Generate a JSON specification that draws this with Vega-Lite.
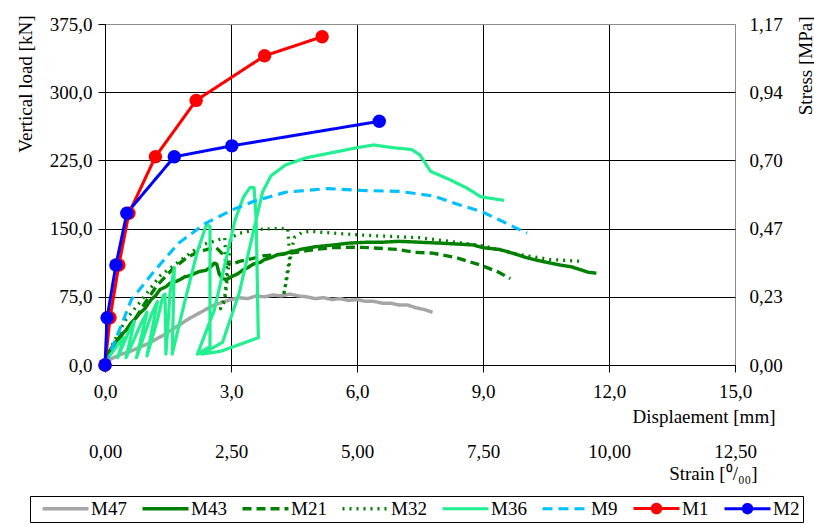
{
  "$schema": "https://vega.github.io/schema/vega-lite/v6.json",
  "autosize": "none",
  "width": 630,
  "height": 341,
  "padding": {"left": 105, "top": 24, "right": 79, "bottom": 160},
  "background": "white",
  "config": {
    "font": "Liberation Serif",
    "view": {"stroke": "#8c8c8c", "strokeWidth": 1},
    "axis": {"labelFont": "Liberation Serif", "titleFont": "Liberation Serif", "labelFontSize": 19, "titleFontSize": 19, "titleFontWeight": "normal", "labelColor": "#000", "titleColor": "#000"},
    "legend": {"labelFont": "Liberation Serif", "labelFontSize": 19, "labelColor": "#000"}
  },
  "layer": [
    {
      "data": {"values": [
        {"s":"M47","i":0,"d":0,"y":3},{"s":"M47","i":1,"d":0.2,"y":8},{"s":"M47","i":2,"d":0.4,"y":12},{"s":"M47","i":3,"d":0.6,"y":15},{"s":"M47","i":4,"d":0.8,"y":19},{"s":"M47","i":5,"d":1.0,"y":23},{"s":"M47","i":6,"d":1.2,"y":28},{"s":"M47","i":7,"d":1.4,"y":33},{"s":"M47","i":8,"d":1.6,"y":39},{"s":"M47","i":9,"d":1.8,"y":45},{"s":"M47","i":10,"d":2.0,"y":51},{"s":"M47","i":11,"d":2.2,"y":56},{"s":"M47","i":12,"d":2.4,"y":61},{"s":"M47","i":13,"d":2.6,"y":66},{"s":"M47","i":14,"d":2.8,"y":69},{"s":"M47","i":15,"d":3.0,"y":72},{"s":"M47","i":16,"d":3.2,"y":74},{"s":"M47","i":17,"d":3.4,"y":73},{"s":"M47","i":18,"d":3.6,"y":76},{"s":"M47","i":19,"d":3.8,"y":75},{"s":"M47","i":20,"d":4.0,"y":77},{"s":"M47","i":21,"d":4.2,"y":76},{"s":"M47","i":22,"d":4.4,"y":78},{"s":"M47","i":23,"d":4.6,"y":76},{"s":"M47","i":24,"d":4.8,"y":75},{"s":"M47","i":25,"d":5.0,"y":73},{"s":"M47","i":26,"d":5.2,"y":74},{"s":"M47","i":27,"d":5.4,"y":72},{"s":"M47","i":28,"d":5.6,"y":73},{"s":"M47","i":29,"d":5.8,"y":71},{"s":"M47","i":30,"d":6.0,"y":72},{"s":"M47","i":31,"d":6.2,"y":70},{"s":"M47","i":32,"d":6.4,"y":70},{"s":"M47","i":33,"d":6.6,"y":68},{"s":"M47","i":34,"d":6.8,"y":68},{"s":"M47","i":35,"d":7.0,"y":66},{"s":"M47","i":36,"d":7.2,"y":66},{"s":"M47","i":37,"d":7.4,"y":63},{"s":"M47","i":38,"d":7.6,"y":61},{"s":"M47","i":39,"d":7.8,"y":58},
        {"s":"M43","i":0,"d":0,"y":0},{"s":"M43","i":1,"d":0.1,"y":15},{"s":"M43","i":2,"d":0.2,"y":22},{"s":"M43","i":3,"d":0.3,"y":28},{"s":"M43","i":4,"d":0.4,"y":34},{"s":"M43","i":5,"d":0.5,"y":38},{"s":"M43","i":6,"d":0.6,"y":45},{"s":"M43","i":7,"d":0.7,"y":50},{"s":"M43","i":8,"d":0.83,"y":57},{"s":"M43","i":9,"d":0.95,"y":62},{"s":"M43","i":10,"d":1.1,"y":72},{"s":"M43","i":11,"d":1.2,"y":76},{"s":"M43","i":12,"d":1.31,"y":83},{"s":"M43","i":13,"d":1.45,"y":86},{"s":"M43","i":14,"d":1.55,"y":90},{"s":"M43","i":15,"d":1.7,"y":92},{"s":"M43","i":16,"d":1.79,"y":94},{"s":"M43","i":17,"d":1.9,"y":97},{"s":"M43","i":18,"d":2.0,"y":98},{"s":"M43","i":19,"d":2.15,"y":101},{"s":"M43","i":20,"d":2.26,"y":103},{"s":"M43","i":21,"d":2.4,"y":104},{"s":"M43","i":22,"d":2.5,"y":107},{"s":"M43","i":23,"d":2.6,"y":112},{"s":"M43","i":24,"d":2.66,"y":111},{"s":"M43","i":25,"d":2.72,"y":100},{"s":"M43","i":26,"d":2.8,"y":95},{"s":"M43","i":27,"d":2.9,"y":94},{"s":"M43","i":28,"d":3.05,"y":98},{"s":"M43","i":29,"d":3.15,"y":100},{"s":"M43","i":30,"d":3.3,"y":105},{"s":"M43","i":31,"d":3.4,"y":107},{"s":"M43","i":32,"d":3.53,"y":111},{"s":"M43","i":33,"d":3.7,"y":113},{"s":"M43","i":34,"d":3.8,"y":116},{"s":"M43","i":35,"d":3.95,"y":118},{"s":"M43","i":36,"d":4.09,"y":121},{"s":"M43","i":37,"d":4.25,"y":122},{"s":"M43","i":38,"d":4.4,"y":124},{"s":"M43","i":39,"d":4.64,"y":127},{"s":"M43","i":40,"d":5.0,"y":130},{"s":"M43","i":41,"d":5.44,"y":132},{"s":"M43","i":42,"d":5.8,"y":134},{"s":"M43","i":43,"d":6.23,"y":135},{"s":"M43","i":44,"d":6.6,"y":135},{"s":"M43","i":45,"d":7.0,"y":136},{"s":"M43","i":46,"d":7.5,"y":135},{"s":"M43","i":47,"d":7.98,"y":134},{"s":"M43","i":48,"d":8.4,"y":133},{"s":"M43","i":49,"d":8.77,"y":132},{"s":"M43","i":50,"d":9.0,"y":129},{"s":"M43","i":51,"d":9.4,"y":127},{"s":"M43","i":52,"d":9.7,"y":123},{"s":"M43","i":53,"d":10.04,"y":118},{"s":"M43","i":54,"d":10.4,"y":114},{"s":"M43","i":55,"d":10.83,"y":110},{"s":"M43","i":56,"d":11.1,"y":108},{"s":"M43","i":57,"d":11.31,"y":105},{"s":"M43","i":58,"d":11.5,"y":102},{"s":"M43","i":59,"d":11.7,"y":101},
        {"s":"M21","i":0,"d":0,"y":0},{"s":"M21","i":1,"d":0.2,"y":20},{"s":"M21","i":2,"d":0.4,"y":33},{"s":"M21","i":3,"d":0.67,"y":47},{"s":"M21","i":4,"d":0.95,"y":68},{"s":"M21","i":5,"d":1.23,"y":87},{"s":"M21","i":6,"d":1.6,"y":105},{"s":"M21","i":7,"d":1.94,"y":118},{"s":"M21","i":8,"d":2.2,"y":124},{"s":"M21","i":9,"d":2.42,"y":127},{"s":"M21","i":10,"d":2.65,"y":129},{"s":"M21","i":11,"d":2.8,"y":122},{"s":"M21","i":12,"d":2.9,"y":112},{"s":"M21","i":13,"d":3.0,"y":110},{"s":"M21","i":14,"d":3.2,"y":114},{"s":"M21","i":15,"d":3.5,"y":117},{"s":"M21","i":16,"d":3.76,"y":120},{"s":"M21","i":17,"d":4.2,"y":122},{"s":"M21","i":18,"d":4.56,"y":124},{"s":"M21","i":19,"d":5.0,"y":127},{"s":"M21","i":20,"d":5.4,"y":129},{"s":"M21","i":21,"d":5.9,"y":129.5},{"s":"M21","i":22,"d":6.3,"y":129},{"s":"M21","i":23,"d":7.0,"y":127},{"s":"M21","i":24,"d":7.35,"y":124},{"s":"M21","i":25,"d":7.8,"y":123},{"s":"M21","i":26,"d":8.37,"y":118},{"s":"M21","i":27,"d":8.93,"y":110},{"s":"M21","i":28,"d":9.33,"y":103},{"s":"M21","i":29,"d":9.65,"y":95},
        {"s":"M32","i":0,"d":0,"y":0},{"s":"M32","i":1,"d":0.2,"y":25},{"s":"M32","i":2,"d":0.5,"y":50},{"s":"M32","i":3,"d":0.83,"y":69},{"s":"M32","i":4,"d":1.31,"y":98},{"s":"M32","i":5,"d":1.94,"y":120},{"s":"M32","i":6,"d":2.3,"y":132},{"s":"M32","i":7,"d":2.58,"y":136},{"s":"M32","i":8,"d":2.85,"y":140},{"s":"M32","i":9,"d":2.9,"y":100},{"s":"M32","i":10,"d":2.85,"y":75},{"s":"M32","i":11,"d":2.75,"y":62},{"s":"M32","i":12,"d":2.85,"y":70},{"s":"M32","i":13,"d":2.95,"y":110},{"s":"M32","i":14,"d":3.0,"y":140},{"s":"M32","i":15,"d":3.21,"y":145},{"s":"M32","i":16,"d":3.6,"y":149},{"s":"M32","i":17,"d":4.0,"y":150},{"s":"M32","i":18,"d":4.35,"y":150},{"s":"M32","i":19,"d":4.4,"y":120},{"s":"M32","i":20,"d":4.3,"y":90},{"s":"M32","i":21,"d":4.25,"y":76},{"s":"M32","i":22,"d":4.35,"y":100},{"s":"M32","i":23,"d":4.5,"y":140},{"s":"M32","i":24,"d":4.7,"y":146},{"s":"M32","i":25,"d":4.9,"y":147},{"s":"M32","i":26,"d":5.44,"y":145},{"s":"M32","i":27,"d":5.9,"y":143.5},{"s":"M32","i":28,"d":6.5,"y":142},{"s":"M32","i":29,"d":7.0,"y":141},{"s":"M32","i":30,"d":7.5,"y":140},{"s":"M32","i":31,"d":8.2,"y":136},{"s":"M32","i":32,"d":9.0,"y":131},{"s":"M32","i":33,"d":9.8,"y":122},{"s":"M32","i":34,"d":10.6,"y":116},{"s":"M32","i":35,"d":11.35,"y":114},
        {"s":"M36","i":0,"d":0,"y":3},{"s":"M36","i":1,"d":0.35,"y":25},{"s":"M36","i":2,"d":0.45,"y":30},{"s":"M36","i":3,"d":0.3,"y":8},{"s":"M36","i":4,"d":0.55,"y":35},{"s":"M36","i":5,"d":0.7,"y":48},{"s":"M36","i":6,"d":0.5,"y":8},{"s":"M36","i":7,"d":0.85,"y":45},{"s":"M36","i":8,"d":1.0,"y":58},{"s":"M36","i":9,"d":0.75,"y":8},{"s":"M36","i":10,"d":1.1,"y":55},{"s":"M36","i":11,"d":1.25,"y":70},{"s":"M36","i":12,"d":1.0,"y":10},{"s":"M36","i":13,"d":1.25,"y":50},{"s":"M36","i":14,"d":1.38,"y":76},{"s":"M36","i":15,"d":1.43,"y":78},{"s":"M36","i":16,"d":1.45,"y":12},{"s":"M36","i":17,"d":1.55,"y":80},{"s":"M36","i":18,"d":1.65,"y":107},{"s":"M36","i":19,"d":1.6,"y":12},{"s":"M36","i":20,"d":1.9,"y":70},{"s":"M36","i":21,"d":2.2,"y":125},{"s":"M36","i":22,"d":2.42,"y":155},{"s":"M36","i":23,"d":2.5,"y":152},{"s":"M36","i":24,"d":2.5,"y":20},{"s":"M36","i":25,"d":2.2,"y":12},{"s":"M36","i":26,"d":2.6,"y":60},{"s":"M36","i":27,"d":2.9,"y":120},{"s":"M36","i":28,"d":3.1,"y":160},{"s":"M36","i":29,"d":3.3,"y":185},{"s":"M36","i":30,"d":3.45,"y":195},{"s":"M36","i":31,"d":3.55,"y":195},{"s":"M36","i":32,"d":3.6,"y":160},{"s":"M36","i":33,"d":3.65,"y":30},{"s":"M36","i":34,"d":2.75,"y":15},{"s":"M36","i":35,"d":2.3,"y":12},{"s":"M36","i":36,"d":2.8,"y":25},{"s":"M36","i":37,"d":3.2,"y":80},{"s":"M36","i":38,"d":3.5,"y":140},{"s":"M36","i":39,"d":3.75,"y":190},{"s":"M36","i":40,"d":3.95,"y":208},{"s":"M36","i":41,"d":4.3,"y":220},{"s":"M36","i":42,"d":4.8,"y":228},{"s":"M36","i":43,"d":5.35,"y":233},{"s":"M36","i":44,"d":6.0,"y":239},{"s":"M36","i":45,"d":6.4,"y":242},{"s":"M36","i":46,"d":6.85,"y":239},{"s":"M36","i":47,"d":7.3,"y":237},{"s":"M36","i":48,"d":7.5,"y":231},{"s":"M36","i":49,"d":7.75,"y":213},{"s":"M36","i":50,"d":8.2,"y":204},{"s":"M36","i":51,"d":8.6,"y":195},{"s":"M36","i":52,"d":8.95,"y":185},{"s":"M36","i":53,"d":9.5,"y":181},
        {"s":"M9","i":0,"d":0,"y":0},{"s":"M9","i":1,"d":0.25,"y":28},{"s":"M9","i":2,"d":0.63,"y":72},{"s":"M9","i":3,"d":1.15,"y":102},{"s":"M9","i":4,"d":1.75,"y":134},{"s":"M9","i":5,"d":2.4,"y":156},{"s":"M9","i":6,"d":3.1,"y":172},{"s":"M9","i":7,"d":3.55,"y":180},{"s":"M9","i":8,"d":4.3,"y":190},{"s":"M9","i":9,"d":5.3,"y":194},{"s":"M9","i":10,"d":6.1,"y":192},{"s":"M9","i":11,"d":7.0,"y":191},{"s":"M9","i":12,"d":7.8,"y":186},{"s":"M9","i":13,"d":8.45,"y":176},{"s":"M9","i":14,"d":9.0,"y":168},{"s":"M9","i":15,"d":9.55,"y":156},{"s":"M9","i":16,"d":10.05,"y":145},
        {"s":"M1","i":0,"d":0,"y":0},{"s":"M1","i":1,"d":0.12,"y":52},{"s":"M1","i":2,"d":0.33,"y":110},{"s":"M1","i":3,"d":0.57,"y":167},{"s":"M1","i":4,"d":1.2,"y":229},{"s":"M1","i":5,"d":2.17,"y":291},{"s":"M1","i":6,"d":3.8,"y":340},{"s":"M1","i":7,"d":5.17,"y":361},
        {"s":"M2","i":0,"d":0,"y":0},{"s":"M2","i":1,"d":0.05,"y":52},{"s":"M2","i":2,"d":0.26,"y":110},{"s":"M2","i":3,"d":0.52,"y":167},{"s":"M2","i":4,"d":1.65,"y":229},{"s":"M2","i":5,"d":3.02,"y":241},{"s":"M2","i":6,"d":6.53,"y":268}
      ]},
      "layer": [
        {
          "mark": {"type": "line", "strokeCap": "butt", "strokeJoin": "round"},
          "encoding": {
            "x": {"field": "d", "type": "quantitative", "scale": {"domain": [0, 15], "nice": false},
              "axis": {"values": [0, 3, 6, 9, 12, 15], "labelExpr": "replace(format(datum.value,'.1f'),'.',',')", "grid": true, "gridColor": {"condition": {"test": "datum.value == 15", "value": "#8c8c8c"}, "value": "#000"}, "gridOpacity": 1, "gridWidth": 1, "domainColor": "#000", "tickColor": "#000", "tickSize": 7, "labelPadding": 10, "labelFlush": false, "title": "Displaement [mm]", "titleX": 670, "titleY": 57, "titleAlign": "right", "titleBaseline": "alphabetic"}},
            "y": {"field": "y", "type": "quantitative", "scale": {"domain": [0, 375], "nice": false},
              "axis": {"values": [0, 75, 150, 225, 300, 375], "labelExpr": "replace(format(datum.value,'.1f'),'.',',')", "grid": true, "gridColor": {"condition": {"test": "datum.value == 375", "value": "#8c8c8c"}, "value": "#000"}, "gridOpacity": 1, "gridWidth": 1, "domainColor": "#000", "tickColor": "#000", "tickSize": 7, "labelPadding": 6, "labelFlush": false, "title": "Vertical load [kN]", "titleX": -74, "titleY": -9, "titleAngle": -90, "titleAlign": "right", "titleBaseline": "alphabetic"}},
            "order": {"field": "i", "type": "quantitative"},
            "color": {"field": "s", "type": "nominal",
              "scale": {"domain": ["M47","M43","M21","M32","M36","M9","M1","M2"], "range": ["#A6A6A6","#008000","#008000","#008000","#22F090","#00C0FF","#FF0000","#0000FF"]},
              "legend": {"title": null, "orient": "none", "legendX": -75, "legendY": 472, "direction": "horizontal", "columns": 8, "strokeColor": "#000", "padding": 3, "symbolType": "M0,0H9.2", "symbolSize": 100, "labelOffset": 39, "columnPadding": 6, "labelFontSize": 19,
                "encode": {"symbols": {"update": {
                  "shape": {"signal": "datum.value === 'M1' || datum.value === 'M2' ? 'M0,0H9.2M5.45,0A0.85,0.85 0 1,1 3.75,0A0.85,0.85 0 1,1 5.45,0Z' : 'M0,0H9.2'"},
                  "fill": {"signal": "datum.value === 'M1' ? '#FF0000' : datum.value === 'M2' ? '#0000FF' : 'transparent'"}}}}}},
            "strokeDash": {"field": "s", "type": "nominal",
              "scale": {"domain": ["M47","M43","M21","M32","M36","M9","M1","M2"], "range": [[1,0],[1,0],[9,5],[2,5],[1,0],[10,6],[1,0],[1,0]]},
              "legend": {"title": null, "orient": "none", "legendX": -75, "legendY": 472, "direction": "horizontal", "columns": 8, "strokeColor": "#000", "padding": 3, "symbolType": "M0,0H9.2", "symbolSize": 100, "labelOffset": 39, "columnPadding": 6, "labelFontSize": 19,
                "encode": {"symbols": {"update": {
                  "shape": {"signal": "datum.value === 'M1' || datum.value === 'M2' ? 'M0,0H9.2M5.45,0A0.85,0.85 0 1,1 3.75,0A0.85,0.85 0 1,1 5.45,0Z' : 'M0,0H9.2'"},
                  "fill": {"signal": "datum.value === 'M1' ? '#FF0000' : datum.value === 'M2' ? '#0000FF' : 'transparent'"}}}}}},
            "strokeWidth": {"field": "s", "type": "nominal",
              "scale": {"domain": ["M47","M43","M21","M32","M36","M9","M1","M2"], "range": [3.5,3,3,3,3,3.5,6,6]},
              "legend": {"title": null, "orient": "none", "legendX": -75, "legendY": 472, "direction": "horizontal", "columns": 8, "strokeColor": "#000", "padding": 3, "symbolType": "M0,0H9.2", "symbolSize": 100, "labelOffset": 39, "columnPadding": 6, "labelFontSize": 19,
                "encode": {"symbols": {"update": {
                  "shape": {"signal": "datum.value === 'M1' || datum.value === 'M2' ? 'M0,0H9.2M5.45,0A0.85,0.85 0 1,1 3.75,0A0.85,0.85 0 1,1 5.45,0Z' : 'M0,0H9.2'"},
                  "fill": {"signal": "datum.value === 'M1' ? '#FF0000' : datum.value === 'M2' ? '#0000FF' : 'transparent'"}}}}}}
          }
        },
        {
          "transform": [{"filter": "datum.s === 'M1' || datum.s === 'M2'"}],
          "mark": {"type": "circle", "size": 180, "opacity": 1},
          "encoding": {
            "x": {"field": "d", "type": "quantitative"},
            "y": {"field": "y", "type": "quantitative"},
            "color": {"field": "s", "type": "nominal", "legend": null}
          }
        }
      ]
    },
    {
      "data": {"values": [{"strain": 0, "stress": 0}]},
      "mark": {"type": "point", "opacity": 0},
      "encoding": {
        "x": {"field": "strain", "type": "quantitative", "scale": {"domain": [0, 12.5], "nice": false},
          "axis": {"orient": "bottom", "values": [0, 2.5, 5, 7.5, 10, 12.5], "labelExpr": "replace(format(datum.value,'.2f'),'.',',')", "grid": false, "domain": false, "ticks": false, "labelPadding": 77, "labelFlush": false, "title": "Strain [⁰/₀₀]", "titleX": 652, "titleY": 114, "titleAlign": "right", "titleBaseline": "alphabetic"}},
        "y": {"field": "stress", "type": "quantitative", "scale": {"domain": [0, 1.17], "nice": false},
          "axis": {"orient": "right", "values": [0, 0.234, 0.468, 0.702, 0.936, 1.17], "labelExpr": "replace(format(datum.value,'.2f'),'.',',')", "grid": false, "domain": false, "ticks": false, "labelPadding": 14, "labelFlush": false, "title": "Stress [MPa]", "titleX": 76, "titleY": -8, "titleAngle": -90, "titleAlign": "right", "titleBaseline": "alphabetic"}}
      }
    }
  ],
  "resolve": {"scale": {"x": "independent", "y": "independent"}}
}
